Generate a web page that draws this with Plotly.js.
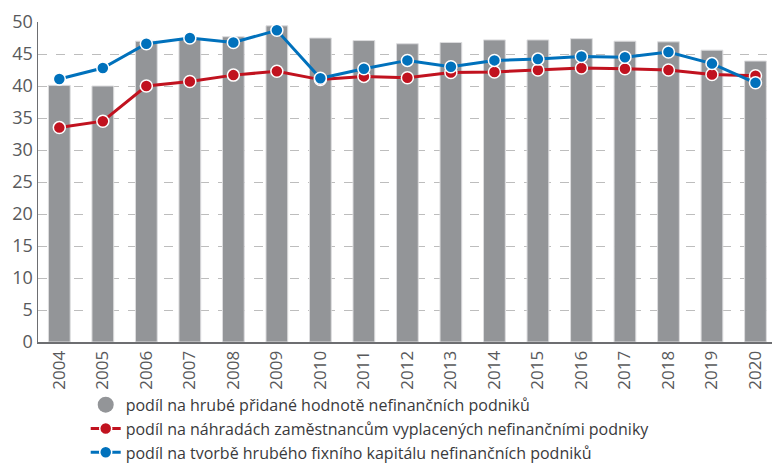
<!DOCTYPE html>
<html>
<head>
<meta charset="utf-8">
<script src="https://cdn.plot.ly/plotly-3.0.1.min.js"></script>
<style>html,body{margin:0;padding:0;background:#fff;}#chart{width:772px;height:463px;}</style>
</head>
<body>
<div id="chart"></div>
<script>
var years = ["2004","2005","2006","2007","2008","2009","2010","2011","2012","2013","2014","2015","2016","2017","2018","2019","2020"];
var grossValueAdded = [40.1,40.0,47.0,47.4,47.7,49.4,47.5,47.1,46.6,46.8,47.2,47.2,47.4,47.0,46.9,45.6,43.9];
var compensation = [33.5,34.5,40.0,40.7,41.7,42.3,41.0,41.5,41.3,42.1,42.2,42.5,42.8,42.7,42.5,41.8,41.6];
var fixedCapital = [41.1,42.8,46.6,47.5,46.8,48.7,41.2,42.7,44.0,43.0,44.0,44.2,44.6,44.5,45.3,43.5,40.5];
var names = [
  "podíl na hrubé přidané hodnotě nefinančních podniků",
  "podíl na náhradách zaměstnancům vyplacených nefinančními podniky",
  "podíl na tvorbě hrubého fixního kapitálu nefinančních podniků"
];
var yTicks = [0,5,10,15,20,25,30,35,40,45,50];

var font = "'Open Sans', sans-serif";
var traces = [
  {type:"bar", x:years, y:grossValueAdded, name:names[0], showlegend:false,
   width:0.5, marker:{color:"#939598", line:{color:"#dcdcde", width:1}}},
  {type:"scatter", mode:"markers", x:[null], y:[null], name:names[0],
   marker:{color:"#939598", size:17, symbol:"circle"}},
  {type:"scatter", mode:"lines+markers", x:years, y:compensation, name:names[1],
   line:{color:"#c1121f", width:3},
   marker:{color:"#c1121f", size:12, line:{color:"#ffffff", width:1.5}}},
  {type:"scatter", mode:"lines+markers", x:years, y:fixedCapital, name:names[2],
   line:{color:"#0071bc", width:3},
   marker:{color:"#0071bc", size:12, line:{color:"#ffffff", width:1.5}}}
];

var layout = {
  width:772, height:463,
  margin:{l:38, r:0, t:22, b:121},
  paper_bgcolor:"#ffffff", plot_bgcolor:"#ffffff",
  font:{family:font, color:"#58595b"},
  showlegend:true,
  legend:{x:0.065, xanchor:"left", xref:"paper", y:0.1625, yref:"container", yanchor:"top", orientation:"v",
          font:{size:16, color:"#3a3a3c", family:font}, tracegroupgap:0, itemsizing:"trace",
          bgcolor:"rgba(0,0,0,0)"},
  xaxis:{type:"category", range:[-0.49,16.38], tickangle:-90,
         tickfont:{size:17, color:"#58595b"}, showgrid:false, ticks:"",
         showline:true, linecolor:"#6d6e71", linewidth:2, fixedrange:true},
  yaxis:{range:[0,50], tickvals:yTicks, ticktext:yTicks.map(String),
         tickfont:{size:18, color:"#58595b"}, showgrid:true, gridcolor:"#bdbdbd",
         griddash:"dash", gridwidth:1, zeroline:false,
         showline:true, linecolor:"#6d6e71", linewidth:1.5, ticks:"", fixedrange:true}
};
Plotly.newPlot("chart", traces, layout, {displayModeBar:false, staticPlot:true});
</script>
</body>
</html>
